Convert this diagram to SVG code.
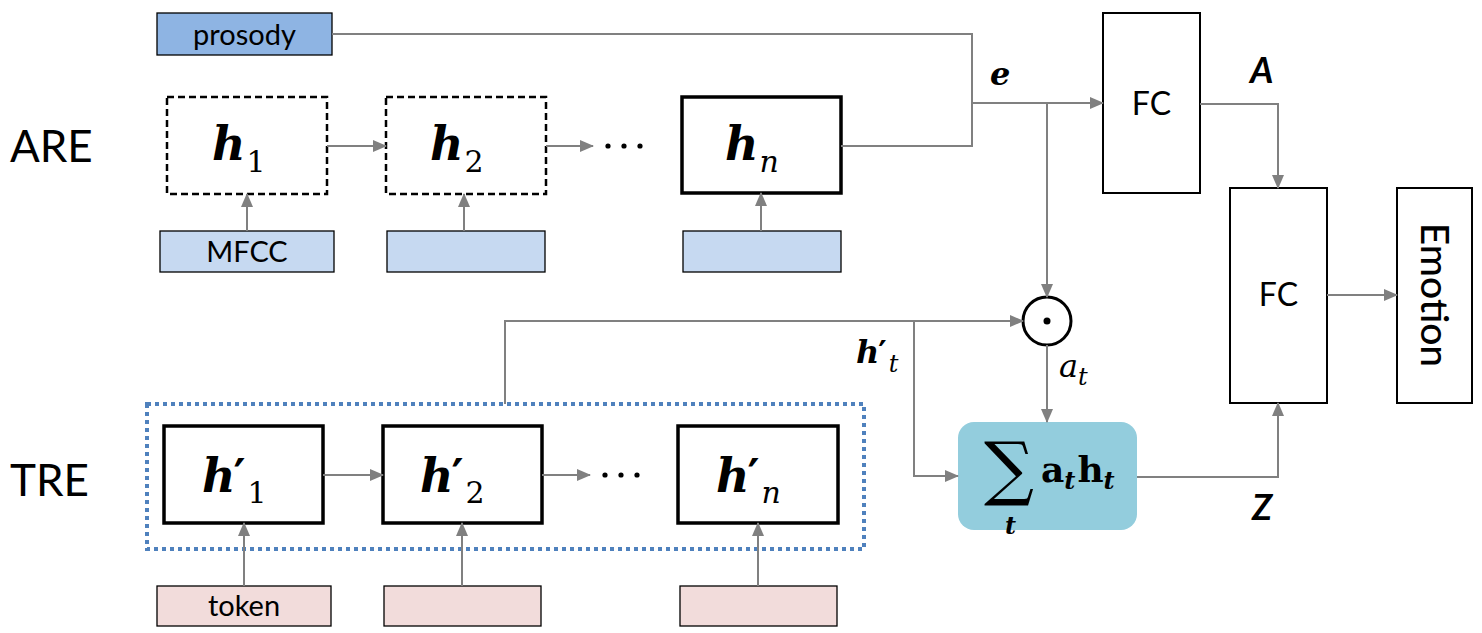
<svg xmlns="http://www.w3.org/2000/svg" width="1482" height="633" viewBox="0 0 1482 633">
<style>
.ln{fill:none;stroke:#808080;stroke-width:2}
.arr{marker-end:url(#ah)}
.box{fill:#fff;stroke:#000;stroke-width:2}
.dash{fill:#fff;stroke:#000;stroke-width:2.5;stroke-dasharray:7 4}
.bold{fill:#fff;stroke:#000;stroke-width:3.5}
.lbl{font-family:Lato,"Liberation Sans",sans-serif;fill:#000}
.math{font-family:"DejaVu Serif","Liberation Serif",serif;fill:#000}
.hb{font-weight:bold;font-style:italic}
.pr{font-weight:bold;font-style:normal}
.in1{fill:#C6D9F1;stroke:#000;stroke-width:1.3}
.in2{fill:#F2DCDB;stroke:#000;stroke-width:1.3}
</style>
<defs>
<marker id="ah" viewBox="0 0 14 12" refX="13" refY="6" markerWidth="14" markerHeight="12" markerUnits="userSpaceOnUse" orient="auto">
<path d="M0,0 L14,6 L0,12 Z" fill="#808080"/>
</marker>
</defs>

<text class="lbl" x="10" y="162" font-size="44">ARE</text>
<text class="lbl" x="10" y="496" font-size="44">TRE</text>

<g id="prosody"><rect x="157" y="13" width="175" height="42" fill="#8EB4E3" stroke="#000" stroke-width="1.3"/><text class="lbl" x="244.5" y="45" font-size="29" text-anchor="middle">prosody</text></g>

<g id="h1"><rect class="dash" x="167" y="97" width="160" height="97"/><text class="math" x="212" y="160"><tspan class="hb" font-size="46">h</tspan><tspan font-size="30" dy="12" dx="1">1</tspan></text></g>
<g id="h2"><rect class="dash" x="386" y="97" width="160" height="97"/><text class="math" x="430" y="160"><tspan class="hb" font-size="46">h</tspan><tspan font-size="30" dy="12" dx="1">2</tspan></text></g>
<g id="hn"><rect class="bold" x="682" y="97" width="159" height="96"/><text class="math" x="725" y="160"><tspan class="hb" font-size="46">h</tspan><tspan font-size="30" font-style="italic" dy="12" dx="1">n</tspan></text></g>

<g id="mfcc"><rect class="in1" x="160" y="231" width="174" height="41"/><text class="lbl" x="247" y="262" font-size="29" text-anchor="middle">MFCC</text></g>
<g id="in2"><rect class="in1" x="387" y="231" width="158" height="41"/></g>
<g id="in3"><rect class="in1" x="683" y="231" width="158" height="41"/></g>

<g id="fc1"><rect class="box" x="1103" y="13" width="97" height="180"/><text class="lbl" x="1151.5" y="115" font-size="32" text-anchor="middle">FC</text></g>
<g id="fc2"><rect class="box" x="1230" y="188" width="97" height="215"/><text class="lbl" x="1278.5" y="306" font-size="32" text-anchor="middle">FC</text></g>
<g id="emotion"><rect class="box" x="1397" y="188" width="75" height="215"/><text class="lbl" font-size="39" font-weight="500" text-anchor="middle" transform="translate(1421,295) rotate(90)">Emotion</text></g>

<g id="odot"><circle cx="1047" cy="321" r="24" fill="#fff" stroke="#000" stroke-width="3"/><circle cx="1047" cy="321" r="3.5" fill="#000"/></g>

<g id="sum"><rect x="958" y="422" width="179" height="108" rx="16" fill="#93CDDD"/>
<text class="math" x="984" y="492" font-size="70">∑</text>
<text class="math hb" x="1005" y="534" font-size="24">t</text>
<text class="math" x="1041" y="482" font-weight="bold"><tspan font-size="36">a</tspan><tspan font-size="24" font-style="italic" dy="7">t</tspan><tspan font-size="36" dy="-7" dx="2">h</tspan><tspan font-size="24" font-style="italic" dy="7">t</tspan></text>
</g>

<g id="tre-frame"><rect x="147" y="404" width="717" height="145" fill="none" stroke="#4F81BD" stroke-width="4" stroke-dasharray="4 4"/></g>

<g id="hp1"><rect class="bold" x="164" y="426" width="159" height="97"/><text class="math" x="202" y="492"><tspan class="hb" font-size="46">h</tspan><tspan class="pr" font-size="46" dx="-2">′</tspan><tspan font-size="30" dy="11" dx="2">1</tspan></text></g>
<g id="hp2"><rect class="bold" x="383" y="426" width="159" height="97"/><text class="math" x="420" y="492"><tspan class="hb" font-size="46">h</tspan><tspan class="pr" font-size="46" dx="-2">′</tspan><tspan font-size="30" dy="11" dx="2">2</tspan></text></g>
<g id="hpn"><rect class="bold" x="678" y="426" width="160" height="97"/><text class="math" x="716" y="492"><tspan class="hb" font-size="46">h</tspan><tspan class="pr" font-size="46" dx="-2">′</tspan><tspan font-size="30" font-style="italic" dy="11" dx="2">n</tspan></text></g>

<g id="tok"><rect class="in2" x="157" y="586" width="174" height="40"/><text class="lbl" x="244" y="616" font-size="29" text-anchor="middle">token</text></g>
<g id="tok2"><rect class="in2" x="384" y="586" width="157" height="40"/></g>
<g id="tok3"><rect class="in2" x="680" y="586" width="157" height="40"/></g>

<g id="dots" fill="#000">
<circle cx="608" cy="146" r="2.6"/><circle cx="624" cy="146" r="2.6"/><circle cx="640" cy="146" r="2.6"/>
<circle cx="605" cy="475" r="2.6"/><circle cx="621" cy="475" r="2.6"/><circle cx="637" cy="475" r="2.6"/>
</g>

<g id="labels">
<text class="math hb" x="990" y="85" font-size="32">e</text>
<text class="lbl" x="1250" y="83" font-size="36" font-weight="bold" font-style="italic">A</text>
<text class="lbl" x="1252" y="520" font-size="36" font-weight="bold" font-style="italic">Z</text>
<text class="math" x="856" y="363"><tspan class="hb" font-size="32">h</tspan><tspan class="pr" font-size="32" dx="-1">′</tspan><tspan font-size="24" font-style="italic" dy="9" dx="2">t</tspan></text>
<text class="math" x="1059" y="377" font-style="italic"><tspan font-size="32">a</tspan><tspan font-size="24" dy="8">t</tspan></text>
</g>

<g id="connectors">
<path class="ln arr" d="M247,231 V194"/>
<path class="ln arr" d="M464,231 V194"/>
<path class="ln arr" d="M761,231 V193"/>
<path class="ln arr" d="M327,146 H386"/>
<path class="ln arr" d="M546,146 H593"/>
<path class="ln" d="M841,146 H972 V34 H332"/>
<path class="ln arr" d="M972,103 H1103"/>
<path class="ln arr" d="M1047,103 V297"/>
<path class="ln arr" d="M1200,104 H1278 V188"/>
<path class="ln arr" d="M1327,295 H1397"/>
<path class="ln arr" d="M505,404 V321 H1023"/>
<path class="ln arr" d="M914,321 V476 H958"/>
<path class="ln arr" d="M1047,345 V422"/>
<path class="ln arr" d="M1137,477 H1278 V403"/>
<path class="ln arr" d="M244,586 V523"/>
<path class="ln arr" d="M462,586 V523"/>
<path class="ln arr" d="M758,586 V523"/>
<path class="ln arr" d="M323,475 H383"/>
<path class="ln arr" d="M542,475 H590"/>
</g>
</svg>
